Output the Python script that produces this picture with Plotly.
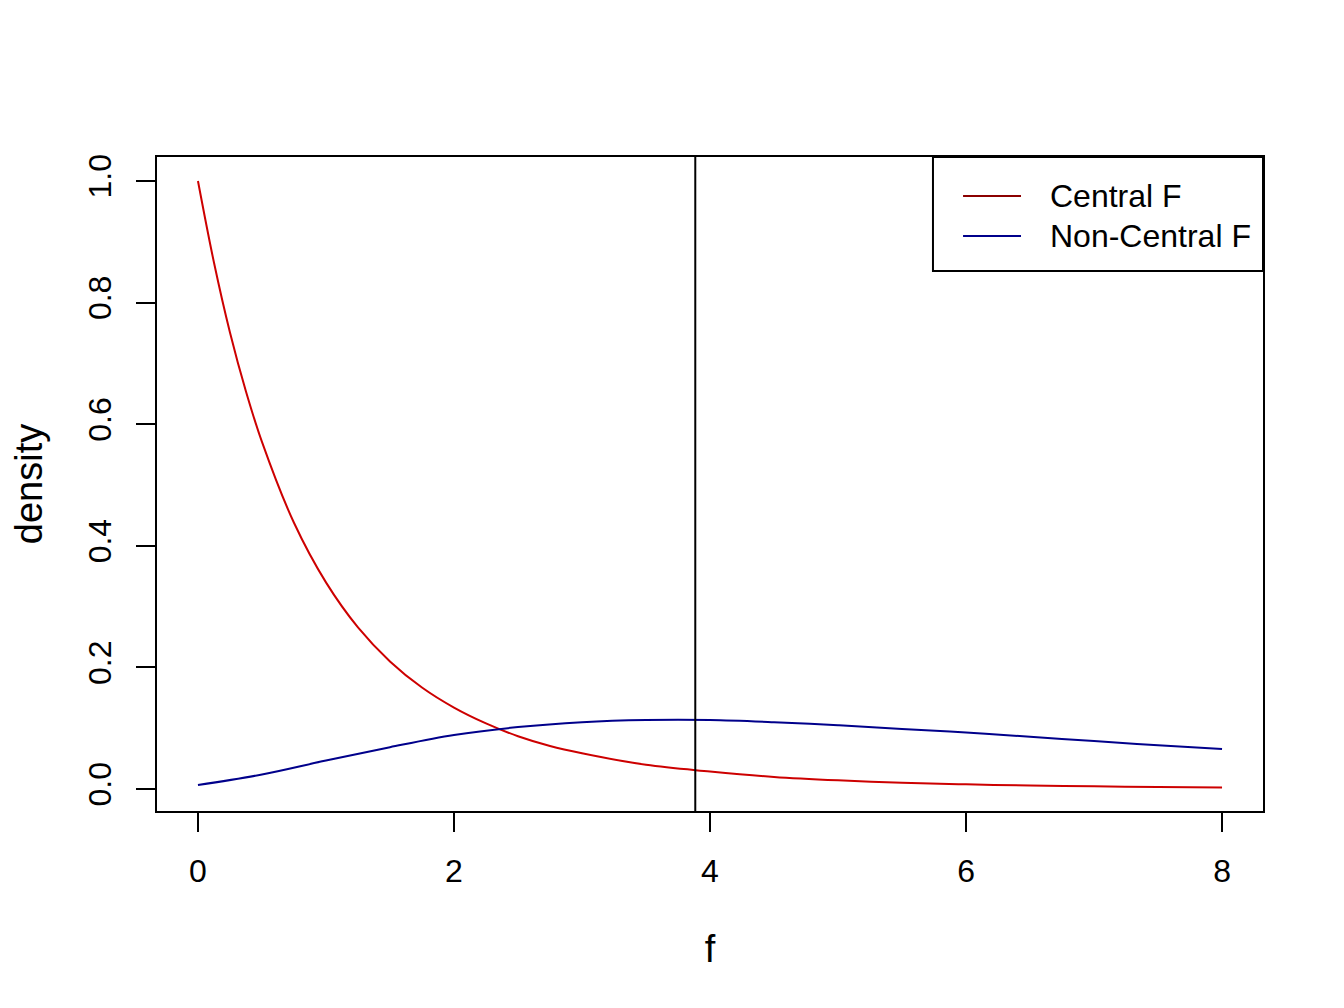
import plotly.graph_objects as go

# values
x_central = [0, 0.125, 0.25, 0.375, 0.5, 0.75, 1, 1.25, 1.5, 1.75, 2, 2.25, 2.5, 2.75,
             3, 3.5, 4, 4.5, 5, 5.5, 6, 6.5, 7, 7.5, 8]
y_central = [1.000, 0.866, 0.751, 0.654, 0.571, 0.438, 0.340, 0.266, 0.210, 0.167, 0.134,
             0.108, 0.087, 0.071, 0.059, 0.040, 0.029, 0.020, 0.0144, 0.0105, 0.0078,
             0.0059, 0.0045, 0.0034, 0.0027]

x_noncentral = [0, 0.5, 1, 1.5, 2, 2.5, 3, 3.5, 4, 4.5, 5, 5.5, 6, 6.5, 7, 7.5, 8]
y_noncentral = [0.0066, 0.024, 0.047, 0.069, 0.089, 0.102, 0.110, 0.1135, 0.1135, 0.110,
                0.105, 0.099, 0.093, 0.086, 0.079, 0.072, 0.066]

f_crit = 3.885
legend_names = ['Central F', 'Non-Central F']
x_ticks = [0, 2, 4, 6, 8]
y_ticks = [0.0, 0.2, 0.4, 0.6, 0.8, 1.0]

font_name = 'Liberation Sans, Arial, sans-serif'

fig = go.Figure()
fig.add_trace(go.Scatter(x=x_central, y=y_central, mode='lines', name=legend_names[0],
                         line=dict(color='#CD0000', width=2, shape='spline')))
fig.add_trace(go.Scatter(x=x_noncentral, y=y_noncentral, mode='lines', name=legend_names[1],
                         line=dict(color='#00008B', width=2, shape='spline')))

# critical value line
fig.add_shape(type='line', x0=f_crit, x1=f_crit, y0=0, y1=1, xref='x', yref='paper',
              line=dict(color='black', width=2))

# legend box drawn by hand (R style)
fig.add_shape(type='rect', xref='paper', yref='paper', x0=0.7016, x1=1.0, y0=0.8257, y1=1.0,
              line=dict(color='black', width=2), fillcolor='white', layer='above')
legend_cols = ['#8B0000', '#00008B']
legend_y = [0.9404, 0.8792]
for name, col, ly in zip(legend_names, legend_cols, legend_y):
    fig.add_shape(type='line', xref='paper', yref='paper', x0=0.7288, x1=0.7812, y0=ly, y1=ly,
                  line=dict(color=col, width=2))
    fig.add_annotation(xref='paper', yref='paper', x=0.8056, y=ly, text=name, showarrow=False,
                       xanchor='left', yanchor='middle', font=dict(size=32, color='black'))

# margins trimmed at left/top to make up for the page margin
fig.update_layout(
    width=1344, height=1008,
    margin=dict(l=149, r=89, t=149, b=205),
    plot_bgcolor='white', paper_bgcolor='white',
    font=dict(family=font_name, size=32, color='black'),
    showlegend=False,
)
fig.update_xaxes(range=[-0.32, 8.32], tickvals=x_ticks, ticks='outside', ticklen=19, tickwidth=2,
                 tickcolor='black', showline=True, linewidth=2, linecolor='black', mirror=True,
                 showgrid=False, zeroline=False, ticklabelstandoff=12, automargin=False,
                 title=dict(text='f', standoff=47))
fig.update_yaxes(range=[-0.036, 1.0395], tickvals=y_ticks, tickformat='.1f', tickangle=-90,
                 ticks='outside', ticklen=19, tickwidth=2, tickcolor='black', showline=True,
                 linewidth=2, linecolor='black', mirror=True, showgrid=False, zeroline=False,
                 ticklabelstandoff=12, automargin=False,
                 title=dict(text='density', standoff=40))

fig.write_html('out.html')
